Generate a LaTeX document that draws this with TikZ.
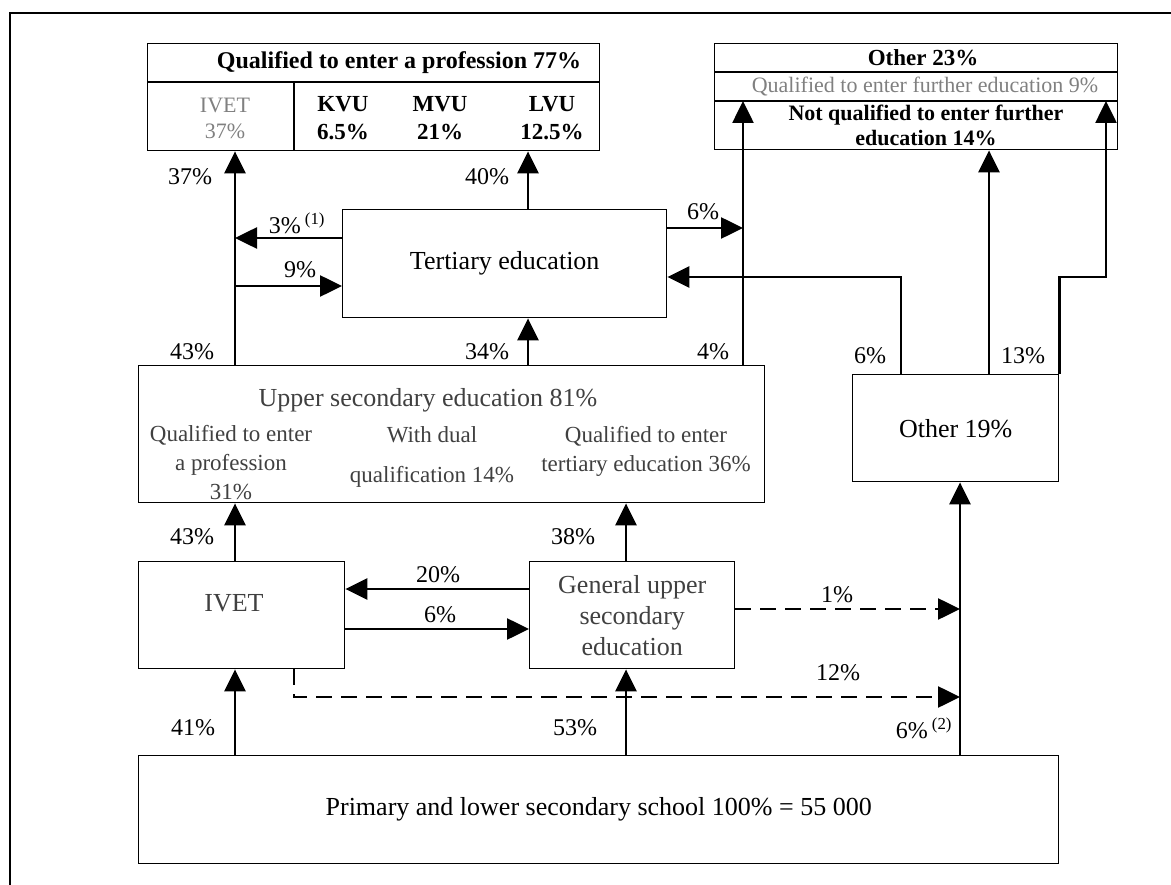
\documentclass[tikz,border=0pt]{standalone}
\usepackage{fontspec}
\setmainfont{Liberation Serif}
\usetikzlibrary{arrows.meta,calc,positioning}

\tikzset{
  box/.style={draw,line width=1.4pt,inner sep=0pt,anchor=north west},
  flow/.style={line width=2.6pt,-{Triangle[length=22pt,width=21pt]}},
  dflow/.style={flow,dash pattern=on 16pt off 9pt},
  pct/.style={font=\fontsize{24}{28}\selectfont},
  txt/.style={font=\fontsize{26}{31}\selectfont,align=center},
  stxt/.style={font=\fontsize{23}{29}\selectfont,align=center,text=black!75},
  btxt/.style={font=\fontsize{23}{28}\selectfont\bfseries,align=center},
  faint/.style={font=\fontsize{22}{26}\selectfont,align=center,text=black!50},
}

\begin{document}
\begin{tikzpicture}[x=1pt,y=-1pt]
  \useasboundingbox (0,0) rectangle (1171,885);
  \draw[line width=2pt] (10,885) -- (10,13) -- (1171,13);   % frame

  % boxes
  \node[box,minimum width=452pt,minimum height=107pt] (prof) at (147,43) {};
  \node[box,minimum width=403pt,minimum height=106pt] (other) at (714,43) {};
  \node[box,txt,minimum width=324pt,minimum height=108pt] (tert) at (342,209) {Tertiary education};
  \node[box,minimum width=626pt,minimum height=137pt] (upper) at (138,365) {};
  \node[box,txt,minimum width=206pt,minimum height=107pt] (oth19) at (852,374) {Other 19\%};
  \node[box,minimum width=206pt,minimum height=107pt] (ivet) at (138,561) {};
  \node[box,txt,text=black!75,minimum width=205pt,minimum height=107pt] (gen) at (529,561) {General upper\\secondary\\education};
  \node[box,txt,minimum width=920pt,minimum height=108pt] (prim) at (138,755) {Primary and lower secondary school 100\% = 55 000};

  % grid lines inside the top boxes
  \coordinate (prow) at (0,82);
  \coordinate (pcol) at (294,0);
  \coordinate (orow1) at (0,72);
  \coordinate (orow2) at (0,101);
  \draw[line width=1.4pt] (prof.west |- prow) -- (prof.east |- prow);
  \draw[line width=1.4pt] (pcol |- prow) -- (pcol |- prof.south);
  \draw[line width=1.4pt] (other.west |- orow1) -- (other.east |- orow1);
  \draw[line width=1.4pt] (other.west |- orow2) -- (other.east |- orow2);

  % texts in the boxes
  \node[btxt,font=\fontsize{24}{28}\selectfont\bfseries] (tprof) at (399,63) {Qualified to enter a profession 77\%};
  \node[faint] (tivet) at (225,118) {IVET\\37\%};
  \node[btxt] (tkvu) at (343,118) {KVU\\6.5\%};
  \node[btxt] (tmvu) at (440,118) {MVU\\21\%};
  \node[btxt] (tlvu) at (552,118) {LVU\\12.5\%};
  \node[btxt] (toth) at (923,58) {Other 23\%};
  \node[faint] (tfur) at (925,87) {Qualified to enter further education 9\%};
  \node[btxt,font=\fontsize{22}{25}\selectfont\bfseries] (tnot) at (926,125) {Not qualified to enter further\\education 14\%};
  \node[txt,text=black!75] (tupp) at (428,400) {Upper secondary education 81\%};
  \node[stxt] (tup1) at (231,463) {Qualified to enter\\a profession\\31\%};
  \node[stxt,font=\fontsize{23}{40}\selectfont] (tup2) at (432,457) {With dual\\qualification 14\%};
  \node[stxt] (tup3) at (646,451) {Qualified to enter\\tertiary education 36\%};
  \node[txt,text=black!75] (tivt) at (234,603) {IVET};

  % x and y positions of the connectors
  \coordinate (xa) at (235,0);
  \coordinate (xb) at (528,0);
  \coordinate (xc) at (743,0);
  \coordinate (xd) at (901,0);
  \coordinate (xe) at (989,0);
  \coordinate (xf) at (1106,0);
  \coordinate (xg) at (626,0);
  \coordinate (xh) at (960,0);
  \coordinate (xi) at (294,0);
  \coordinate (ya) at (0,238);
  \coordinate (yb) at (0,286);
  \coordinate (yc) at (0,228);
  \coordinate (yd) at (0,277);
  \coordinate (yf) at (0,589);
  \coordinate (yg) at (0,629);
  \coordinate (yh) at (0,609);
  \coordinate (yi) at (0,697);

  % connectors
  \draw[flow] (upper.north -| xa) -- (prof.south -| xa);
  \draw[flow] (tert.west |- ya) -- (xa |- ya);
  \draw[flow] (xa |- yb) -- (tert.west |- yb);
  \draw[flow] (tert.north -| xb) -- (prof.south -| xb);
  \draw[flow] (upper.north -| xb) -- (tert.south -| xb);
  \draw[flow] (tert.east |- yc) -- (xc |- yc);
  \draw[flow] (upper.north -| xc) -- (xc |- orow2);
  \draw[flow] (oth19.north -| xd) -- (xd |- yd) -- (tert.east |- yd);
  \draw[flow] (oth19.north -| xe) -- (other.south -| xe);
  \draw[flow] (oth19.north east) -- (oth19.north east |- yd) -- (xf |- yd) -- (xf |- orow2);
  \draw[flow] (ivet.north -| xa) -- (upper.south -| xa);
  \draw[flow] (gen.north -| xg) -- (upper.south -| xg);
  \draw[flow] (gen.west |- yf) -- (ivet.east |- yf);
  \draw[flow] (ivet.east |- yg) -- (gen.west |- yg);
  \draw[dflow] (gen.east |- yh) -- (xh |- yh);
  \draw[dflow] (ivet.south -| xi) -- (xi |- yi) -- (xh |- yi);
  \draw[flow] (prim.north -| xa) -- (ivet.south -| xa);
  \draw[flow] (prim.north -| xg) -- (gen.south -| xg);
  \draw[flow] (prim.north -| xh) -- (oth19.south -| xh);

  % percentages
  \node[pct] (l37) at (190,177) {37\%};
  \node[pct] (l40) at (487,177) {40\%};
  \node[pct] (l3) at (297,223) {3\%\,\textsuperscript{(1)}};
  \node[pct] (l9) at (300,270) {9\%};
  \node[pct] (l6a) at (703,212) {6\%};
  \node[pct] (l43a) at (192,352) {43\%};
  \node[pct] (l34) at (487,352) {34\%};
  \node[pct] (l4) at (713,352) {4\%};
  \node[pct] (l6b) at (870,356) {6\%};
  \node[pct] (l13) at (1023,356) {13\%};
  \node[pct] (l43b) at (192,537) {43\%};
  \node[pct] (l38) at (573,537) {38\%};
  \node[pct] (l20) at (438,575) {20\%};
  \node[pct] (l6c) at (440,615) {6\%};
  \node[pct] (l1) at (837,595) {1\%};
  \node[pct] (l12) at (838,673) {12\%};
  \node[pct] (l41) at (193,728) {41\%};
  \node[pct] (l53) at (575,728) {53\%};
  \node[pct] (l6d) at (924,728) {6\%\,\textsuperscript{(2)}};
\end{tikzpicture}
\end{document}
